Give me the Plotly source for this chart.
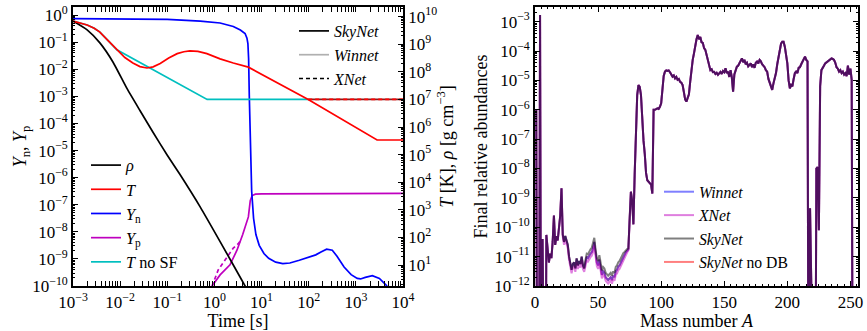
import numpy as np
import plotly.graph_objects as go

FONT = "Liberation Serif"
W, H = 867, 331
MT, MB = 7, 45

# ---------------- left panel: log10(time [s]) and log10(value) ----------------
rho_logt = [-3.0, -2.7, -2.43, -2.15, -1.85, -1.58, -1.3, -1.0, -0.73, -0.3, 0.12, 0.65, 1.0]
rho_logv = [9.84, 9.52, 9.05, 8.35, 7.38, 6.60, 5.80, 4.98, 4.28, 3.10, 1.85, 0.24, -0.9]

T_logt = [-3.0, -2.85, -2.7, -2.55, -2.43, -2.25, -2.07, -1.9, -1.73, -1.58, -1.43, -1.3, -1.15,
          -0.97, -0.79, -0.65, -0.52, -0.35, -0.16, 0.12, 0.4, 0.72, 1.99, 3.45, 4.0]
T_logv = [9.84, 9.78, 9.70, 9.58, 9.44, 9.12, 8.80, 8.52, 8.32, 8.19, 8.14, 8.18, 8.30,
          8.50, 8.66, 8.73, 8.76, 8.74, 8.66, 8.47, 8.32, 8.17, 7.0, 5.53, 5.53]

TnoSF_logt = [-3.0, -2.85, -2.7, -2.55, -2.43, -2.25, -2.07, -0.155, 1.99]
TnoSF_logv = [9.84, 9.78, 9.70, 9.58, 9.44, 9.12, 8.80, 7.0, 7.0]

TxnetFloor_logt = [1.99, 4.0]
TxnetFloor_logv = [7.0, 7.0]

Yn_logt = [-3.0, -2.0, -1.0, -0.3, 0.12, 0.4, 0.55, 0.65, 0.69, 0.71, 0.725, 0.74, 0.76, 0.79,
           0.83, 0.88, 0.95, 1.05, 1.15, 1.3, 1.45, 1.6, 1.8, 2.0, 2.15, 2.25, 2.38, 2.5, 2.6,
           2.75, 2.9, 3.03, 3.1, 3.2, 3.35, 3.5, 3.65, 3.75]
Yn_logv = [-0.13, -0.14, -0.16, -0.22, -0.29, -0.42, -0.55, -0.68, -0.85, -1.05, -1.6, -3.0, -5.0,
           -6.5, -7.5, -8.1, -8.5, -8.8, -8.98, -9.12, -9.17, -9.15, -9.05, -8.95, -8.85, -8.75,
           -8.64, -8.68, -8.9, -9.3, -9.58, -9.72, -9.74, -9.68, -9.62, -9.72, -9.98, -10.3]

Yp_logt = [-0.05, 0.12, 0.33, 0.48, 0.6, 0.69, 0.72, 0.76, 0.80, 0.87, 1.0, 4.0]
Yp_logv = [-10.0, -9.59, -9.22, -8.67, -8.1, -7.67, -7.45, -6.85, -6.66, -6.61, -6.60, -6.58]

YpXnet_logt = [-0.05, 0.08, 0.27, 0.40, 0.5, 0.55]
YpXnet_logv = [-10.0, -9.41, -8.93, -8.6, -8.45, -8.34]

# ---------------- right panel: final abundances, log10 Y for A = 1..256 ----------------
mass_A = list(range(1, 257))
base_logY = [
    -6.0, -20, -20, -2.77, -20, -10.4, -20, -20, -10.26, -10.9,
    -11.2, -10.9, -11.05, -10.5, -9.6, -10.6, -10.3, -10.45, -10.0, -9.6,
    -8.67, -10.25, -10.5, -10.3, -10.45, -10.6, -11.0, -11.2, -11.45, -11.25,
    -11.2, -11.4, -11.06, -11.3, -11.15, -11.25, -11.0, -11.3, -11.4, -11.2,
    -11.0, -11.05, -10.95, -10.9, -10.85, -10.72, -10.5, -10.9, -11.2, -11.3,
    -11.1, -11.35, -11.62, -11.5, -11.55, -11.7, -11.75, -11.8, -11.75, -11.7,
    -11.8, -11.65, -11.7, -11.5, -11.45, -11.34, -11.3, -11.2, -11.1, -11.0,
    -10.94, -10.85, -10.8, -10.75, -9.7, -8.79, -9.1, -9.9, -8.2, -6.6,
    -5.5, -5.16, -5.22, -5.5, -6.5, -7.05, -7.5, -8.15, -8.4, -8.45,
    -8.5, -8.55, -8.85, -6.0, -6.0, -5.98, -5.95, -5.97, -5.9, -5.78,
    -5.35, -4.85, -4.70, -4.66, -4.68, -4.66, -4.72, -4.78, -4.87, -4.83,
    -4.93, -4.88, -4.98, -4.95, -5.05, -5.08, -5.16, -5.4, -5.65, -5.72,
    -5.62, -5.47, -5.05, -4.6, -4.3, -4.08, -3.8, -3.6, -3.45, -3.6,
    -3.52, -3.7, -3.72, -3.9, -3.96, -4.12, -4.3, -4.5, -4.65, -4.62,
    -4.72, -4.71, -4.78, -4.74, -4.81, -4.76, -4.71, -4.78, -4.68, -4.72,
    -4.59, -4.75, -4.7, -4.88, -4.65, -4.9, -5.38, -4.8, -4.65, -4.53,
    -4.5, -4.4, -4.3, -4.25, -4.38, -4.3, -4.45, -4.4, -4.52, -4.47,
    -4.42, -4.55, -4.45, -4.57, -4.4, -4.36, -4.42, -4.3, -4.35, -4.45,
    -4.5, -4.55, -4.65, -4.7, -4.95, -5.1, -5.2, -5.32, -5.1, -4.95,
    -4.75, -4.45, -4.19, -3.95, -3.75, -3.68, -3.68, -3.85, -4.1, -4.42,
    -5.0, -5.27, -5.15, -5.2, -4.95, -4.75, -4.7, -4.75, -4.57, -4.55,
    -4.45, -4.37, -4.25, -4.19, -4.3, -4.35, -20, -9.35, -20, -20,
    -20, -20, -8.0, -7.95, -10.1, -5.2, -4.65, -4.55, -4.5, -4.42,
    -4.38, -4.36, -4.3, -4.28, -4.25, -4.27, -4.3, -4.4, -4.55, -4.6,
    -4.7, -4.65, -4.75, -4.7, -4.8, -4.75, -4.85, -4.5, -4.8, -4.6,
    -4.98, -20, -20, -20, -20, -20,
]

skynet_A = list(range(40, 75))
skynet_logY = [
    -11.12, -10.9, -10.92, -10.8, -10.75, -10.7, -10.57, -10.36, -10.75, -11.05,
    -11.15, -10.95, -11.2, -11.47, -11.35, -11.4, -11.55, -11.6, -11.65, -11.6,
    -11.55, -11.65, -11.5, -11.55, -11.35, -11.3, -11.19, -11.15, -11.05, -10.97,
    -10.88, -10.84, -10.77, -10.74, -10.72,
]
xnet_A = list(range(22, 75))
xnet_logY = [
    -10.32, -10.6, -10.42, -10.57, -10.72, -11.12, -11.32, -11.57, -11.37, -11.32,
    -11.52, -11.18, -11.42, -11.27, -11.37, -11.12, -11.42, -11.52, -11.32, -11.12,
    -11.17, -11.07, -11.02, -10.97, -10.84, -10.62, -11.02, -11.32, -11.42, -11.22,
    -11.47, -11.74, -11.62, -11.67, -11.82, -11.87, -11.92, -11.87, -11.82, -11.92,
    -11.77, -11.82, -11.62, -11.57, -11.46, -11.42, -11.32, -11.22, -11.1, -11.04,
    -10.93, -10.86, -10.79,
]

# ---------------- tick labels ----------------
xt_left = [-3, -2, -1, 0, 1, 2, 3, 4]
yt_left = list(range(-10, 1))
yt_right = list(range(1, 11))
yt_abund = list(range(-12, -2))
xt_mass = [0, 50, 100, 150, 200, 250]


def p10(e):
    return "10<sup>" + str(e).replace("-", "\u2212") + "</sup>"


def minor_log(lo, hi):
    # minor tick positions (2..9 x 10^d) strictly inside the log range [lo, hi]
    vals = []
    for d in range(int(np.floor(lo)), int(np.ceil(hi)) + 1):
        for k in range(2, 10):
            v = k * 10.0 ** d
            if lo < np.log10(v) < hi:
                vals.append(v)
    return vals


def pw(a):
    return 10.0 ** np.asarray(a, dtype=float)


def build(base, A_sub, vals):
    out = list(base)
    for a, v in zip(A_sub, vals):
        out[a - 1] = v
    return out


winnet_logY = list(base_logY)
nodb_logY = list(base_logY)
sky_full = build(base_logY, skynet_A, skynet_logY)
xnet_full = build(base_logY, xnet_A, xnet_logY)

fig = go.Figure()
LW = 1.7

# ---- left panel traces ----
fig.add_trace(go.Scatter(x=pw(TnoSF_logt), y=pw(TnoSF_logv), mode="lines", xaxis="x", yaxis="y2",
                         line=dict(color="#00bfbf", width=LW), name="<i>T</i> no SF",
                         legend="legend", legendrank=5))
fig.add_trace(go.Scatter(x=pw(TxnetFloor_logt), y=pw(TxnetFloor_logv), mode="lines", xaxis="x", yaxis="y2",
                         line=dict(color="#8a1c1c", width=LW), showlegend=False))
fig.add_trace(go.Scatter(x=pw(TxnetFloor_logt), y=pw(TxnetFloor_logv), mode="lines", xaxis="x", yaxis="y2",
                         line=dict(color="#ff0000", width=LW, dash="4px,3px"), showlegend=False))
fig.add_trace(go.Scatter(x=pw(rho_logt), y=pw(rho_logv), mode="lines", xaxis="x", yaxis="y2",
                         line=dict(color="black", width=LW, shape="spline", smoothing=0.5),
                         name="<i>ρ</i>", legend="legend", legendrank=1))
fig.add_trace(go.Scatter(x=pw(T_logt), y=pw(T_logv), mode="lines", xaxis="x", yaxis="y2",
                         line=dict(color="#ff0000", width=LW),
                         name="<i>T</i>", legend="legend", legendrank=2))
fig.add_trace(go.Scatter(x=pw(Yp_logt), y=pw(Yp_logv), mode="lines", xaxis="x", yaxis="y",
                         line=dict(color="#bf00bf", width=LW),
                         name="<i>Y</i><sub>p</sub>", legend="legend", legendrank=4))
fig.add_trace(go.Scatter(x=pw(YpXnet_logt), y=pw(YpXnet_logv), mode="lines", xaxis="x", yaxis="y",
                         line=dict(color="#bf00bf", width=LW, dash="4px,3px"), showlegend=False))
fig.add_trace(go.Scatter(x=pw(Yn_logt), y=pw(Yn_logv), mode="lines", xaxis="x", yaxis="y",
                         line=dict(color="#0000ff", width=LW),
                         name="<i>Y</i><sub>n</sub>", legend="legend", legendrank=3))

# code-style legend (left panel, upper right)
for nm, col, dash, rk in [("<i>SkyNet</i>", "black", "solid", 1),
                          ("<i>Winnet</i>", "#b0b0b0", "solid", 2),
                          ("<i>XNet</i>", "black", "4px,3px", 3)]:
    fig.add_trace(go.Scatter(x=[None], y=[None], mode="lines", xaxis="x", yaxis="y",
                             line=dict(color=col, width=LW, dash=dash), name=nm,
                             legend="legend2", legendrank=rk))

# ---- right panel traces ----
RW = 2.0
right_series = [
    ("<i>SkyNet</i> no DB", nodb_logY, "rgba(255,0,0,0.5)", 4),
    ("<i>Winnet</i>", winnet_logY, "rgba(0,0,255,0.5)", 1),
    ("<i>XNet</i>", xnet_full, "rgba(191,0,191,0.5)", 2),
    ("<i>SkyNet</i>", sky_full, "rgba(0,0,0,0.5)", 3),
]
for nm, vals, col, rk in right_series:
    fig.add_trace(go.Scatter(x=mass_A, y=pw(vals), mode="lines", xaxis="x2", yaxis="y3",
                             line=dict(color=col, width=RW), name=nm,
                             legend="legend3", legendrank=rk))

# ---------------- layout ----------------
TICK_SIZE = 17
TITLE_SIZE = 18
tickfont = dict(family=FONT, size=TICK_SIZE, color="black")
titlefont = dict(family=FONT, size=TITLE_SIZE, color="black")
common = dict(showline=True, linecolor="black", linewidth=1.6, ticks="inside", ticklen=5,
              tickwidth=1, tickcolor="black", showgrid=False, zeroline=False,
              tickfont=tickfont, automargin=False)
minor_common = dict(ticks="inside", ticklen=2.5, tickwidth=0.8, tickcolor="black", showgrid=False)


def legstyle(size):
    return dict(xanchor="left", yanchor="top", bgcolor="rgba(0,0,0,0)", borderwidth=0,
                font=dict(family=FONT, size=size, color="black"),
                itemwidth=30, traceorder="normal")


fig.update_layout(
    width=W, height=H,
    margin=dict(l=0, r=0, t=MT, b=MB),
    paper_bgcolor="white", plot_bgcolor="white",
    font=dict(family=FONT, size=16, color="black"),
    xaxis=dict(type="log", range=[-3, 4], domain=[73 / W, 403 / W], anchor="y",
               tickmode="array", tickvals=[10.0 ** e for e in xt_left], ticktext=[p10(e) for e in xt_left],
               minor=dict(tickmode="array", tickvals=minor_log(-3, 4), **minor_common),
               mirror="allticks",
               title=dict(text="Time [s]", font=titlefont, standoff=9), **common),
    yaxis=dict(type="log", range=[-10, 0.3], domain=[0, 1], anchor="x",
               tickmode="array", tickvals=[10.0 ** e for e in yt_left], ticktext=[p10(e) for e in yt_left],
               minor=dict(tickmode="array", tickvals=minor_log(-10, 0.3), **minor_common),
               mirror=False,
               title=dict(text="<i>Y</i><sub>n</sub>, <i>Y</i><sub>p</sub>", font=titlefont,
                          standoff=1), **common),
    yaxis2=dict(type="log", range=[0.24, 10.35], overlaying="y", side="right", anchor="x",
                tickmode="array", tickvals=[10.0 ** e for e in yt_right], ticktext=[p10(e) for e in yt_right],
                minor=dict(tickmode="array", tickvals=minor_log(0.24, 10.35), **minor_common),
                title=dict(text="<i>T</i> [K], <i>ρ</i> [g cm<sup>\u22123</sup>]", font=titlefont,
                           standoff=4), **common),
    xaxis2=dict(range=[0, 256], domain=[535 / W, 858 / W], anchor="y3",
                tickmode="array", tickvals=xt_mass, ticktext=[str(v) for v in xt_mass],
                minor=dict(dtick=5, tick0=0, **minor_common),
                mirror="allticks",
                title=dict(text="Mass number <i>A</i>", font=titlefont, standoff=9), **common),
    yaxis3=dict(type="log", range=[-12, -2.5], domain=[0, 1], anchor="x2",
                tickmode="array", tickvals=[10.0 ** e for e in yt_abund], ticktext=[p10(e) for e in yt_abund],
                minor=dict(tickmode="array", tickvals=minor_log(-12, -2.5), **minor_common),
                mirror="allticks",
                title=dict(text="Final relative abundances", font=titlefont, standoff=2),
                **common),
    legend=dict(x=86 / W, y=(286 - 148) / 279, **legstyle(16.3)),
    legend2=dict(x=294 / W, y=(286 - 14) / 279, **legstyle(16)),
    legend3=dict(x=659 / W, y=(286 - 175) / 279, **legstyle(15.7)),
)

fig.write_html("out.html")
